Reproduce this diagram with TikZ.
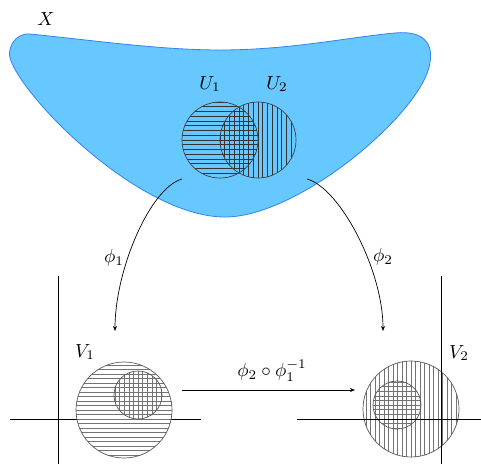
\documentclass[tikz,border=0pt]{standalone}
\usetikzlibrary{arrows.meta}
\definecolor{blobfill}{RGB}{102,200,255}
\definecolor{blobline}{RGB}{50,130,240}
\begin{document}
\begin{tikzpicture}[x=1pt,y=-1pt,
  lbl/.style={scale=1.9, inner sep=0pt},
  hatchU/.style={line width=0.6pt, black!80},
  ringU/.style={line width=0.7pt, black!75},
  hatchV/.style={line width=0.55pt, black!55},
  ringV/.style={line width=0.7pt, black!65},
  conn/.style={line width=0.7pt, -{Stealth[length=5pt,width=4pt]}},
  axisline/.style={line width=0.8pt}]
\useasboundingbox (0,0) rectangle (481,464);
% blob X
\fill[blobfill, draw=blobline, line width=0.8pt]
  (30,34) .. controls (90,40) and (160,50) .. (220,50)
  .. controls (290,50) and (350,37) .. (395,33)
  .. controls (425,30) and (433,45) .. (430,62)
  .. controls (425,110) and (300,217) .. (225,217)
  .. controls (140,217) and (22,98) .. (10,58)
  .. controls (7.5,49) and (14,33) .. (30,34) -- cycle;
\node[lbl] (X) at (46,19) {$X$};
% U1, U2 hatching
\begin{scope}
  \clip (220,140) circle[radius=38];
  \foreach \k in {-8,...,8} \draw[hatchU] (170,140+\k*4.75) -- (270,140+\k*4.75);
\end{scope}
\begin{scope}
  \clip (258,140) circle[radius=38];
  \foreach \k in {-8,...,8} \draw[hatchU] (258+\k*4.75,90) -- (258+\k*4.75,190);
\end{scope}
\draw[ringU] (220,140) circle[radius=38];
\draw[ringU] (258,140) circle[radius=38];
\node[lbl] (U1) at (210,84) {$U_1$};
\node[lbl] (U2) at (277,84) {$U_2$};
% connectors from X
\coordinate (s1) at (182,179);
\coordinate (t1) at (115,331);
\coordinate (s2) at (307,179);
\coordinate (t2) at (383,331);
\draw[conn] (s1) .. controls (150,188) and (115,270) .. (t1);
\draw[conn] (s2) .. controls (340,188) and (383,270) .. (t2);
\node[lbl] (p1) at (114,258) {$\phi_1$};
\node[lbl] (p2) at (383,257) {$\phi_2$};
% left chart
\coordinate (L1a) at (58,276); \coordinate (L1b) at (58,464);
\coordinate (L2a) at (10,419); \coordinate (L2b) at (201,419);
\draw[axisline] (L1a) -- (L1b);
\draw[axisline] (L2a) -- (L2b);
\begin{scope}
  \clip (124,410) circle[radius=48];
  \foreach \k in {-11,...,11} \draw[hatchV] (70,410+\k*4.5) -- (180,410+\k*4.5);
\end{scope}
\begin{scope}
  \clip (138,395) circle[radius=24];
  \foreach \k in {-6,...,6} \draw[hatchV] (138+\k*4.6,365) -- (138+\k*4.6,425);
\end{scope}
\draw[ringV] (124,410) circle[radius=48];
\draw[ringV] (138,395) circle[radius=24];
\node[lbl] (V1) at (85,352) {$V_1$};
% right chart
\coordinate (R1a) at (441,276); \coordinate (R1b) at (441,464);
\coordinate (R2a) at (297,419); \coordinate (R2b) at (481,419);
\begin{scope}
  \clip (411,409) circle[radius=48];
  \foreach \k in {-11,...,11} \draw[hatchV] (411+\k*4.5,355) -- (411+\k*4.5,465);
\end{scope}
\begin{scope}
  \clip (397,405) circle[radius=24];
  \foreach \k in {-6,...,6} \draw[hatchV] (370,405+\k*4.6) -- (425,405+\k*4.6);
\end{scope}
\draw[ringV] (411,409) circle[radius=48];
\draw[ringV] (397,405) circle[radius=24];
\draw[axisline] (R1a) -- (R1b);
\draw[axisline] (R2a) -- (R2b);
\node[lbl] (V2) at (459,353) {$V_2$};
% transition map
\coordinate (m1) at (182,390);
\coordinate (m2) at (355,390);
\draw[conn] (m1) -- (m2);
\node[lbl] (tm) at (272,371) {$\phi_2\circ\phi_1^{-1}$};
\end{tikzpicture}
\end{document}
